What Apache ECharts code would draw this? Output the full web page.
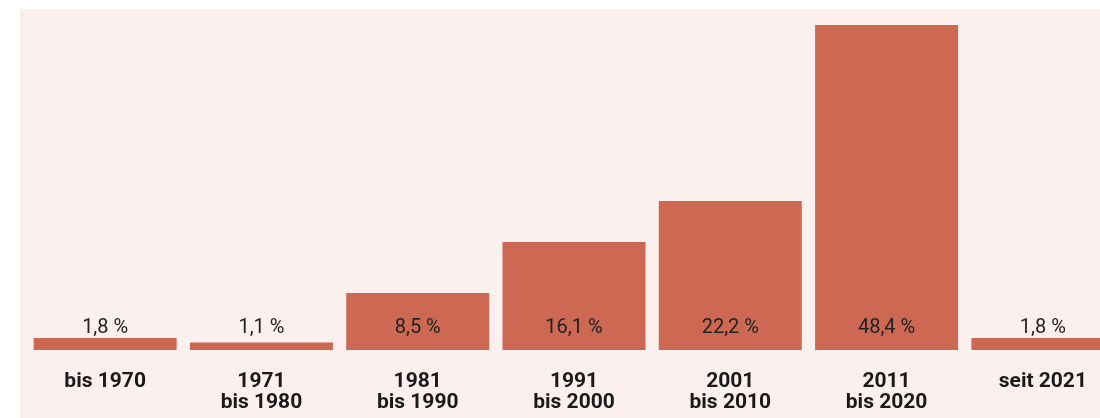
<!DOCTYPE html>
<html>
<head>
<meta charset="utf-8">
<script src="https://cdn.jsdelivr.net/npm/echarts@6/dist/echarts.min.js"></script>
<style>
  html, body { margin: 0; padding: 0; background: #fff; overflow: hidden; width: 1100px; height: 418px; }
  #main { position: absolute; left: 20px; top: 9px; width: 1110px; height: 409px; background: #fbf0ee; }
</style>
</head>
<body>
<div id="main"></div>
<script>
// Baujahr der Wohnungen, Anteil in Prozent
var categories = ['bis 1970', '1971\nbis 1980', '1981\nbis 1990', '1991\nbis 2000', '2001\nbis 2010', '2011\nbis 2020', 'seit 2021'];
var shares = [1.8, 1.1, 8.5, 16.1, 22.2, 48.4, 1.8];

var myChart = echarts.init(document.getElementById('main'));

var option = {
    animation: false,
    backgroundColor: '#fbf0ee',
    grid: { left: 7, right: 9, top: 16, bottom: 68 },
    xAxis: {
        type: 'category',
        data: categories,
        axisLine: { show: false },
        axisTick: { show: false },
        axisLabel: {
            interval: 0,
            margin: 21,
            verticalAlign: 'top',
            fontFamily: 'Roboto',
            fontWeight: 'bold',
            fontSize: 21,
            lineHeight: 21,
            color: '#1a1a1a'
        }
    },
    yAxis: {
        type: 'value',
        min: 0,
        max: 48.4,
        show: false
    },
    series: [{
        type: 'bar',
        data: shares,
        barWidth: '91.5%',
        itemStyle: { color: '#cd6953' },
        label: {
            show: true,
            position: 'insideBottom',
            distance: 12,
            fontFamily: 'Roboto',
            fontSize: 20,
            color: '#222',
            formatter: function (p) {
                return String(p.value).replace('.', ',') + ' %';
            }
        }
    }]
};

myChart.setOption(option);
</script>
</body>
</html>
